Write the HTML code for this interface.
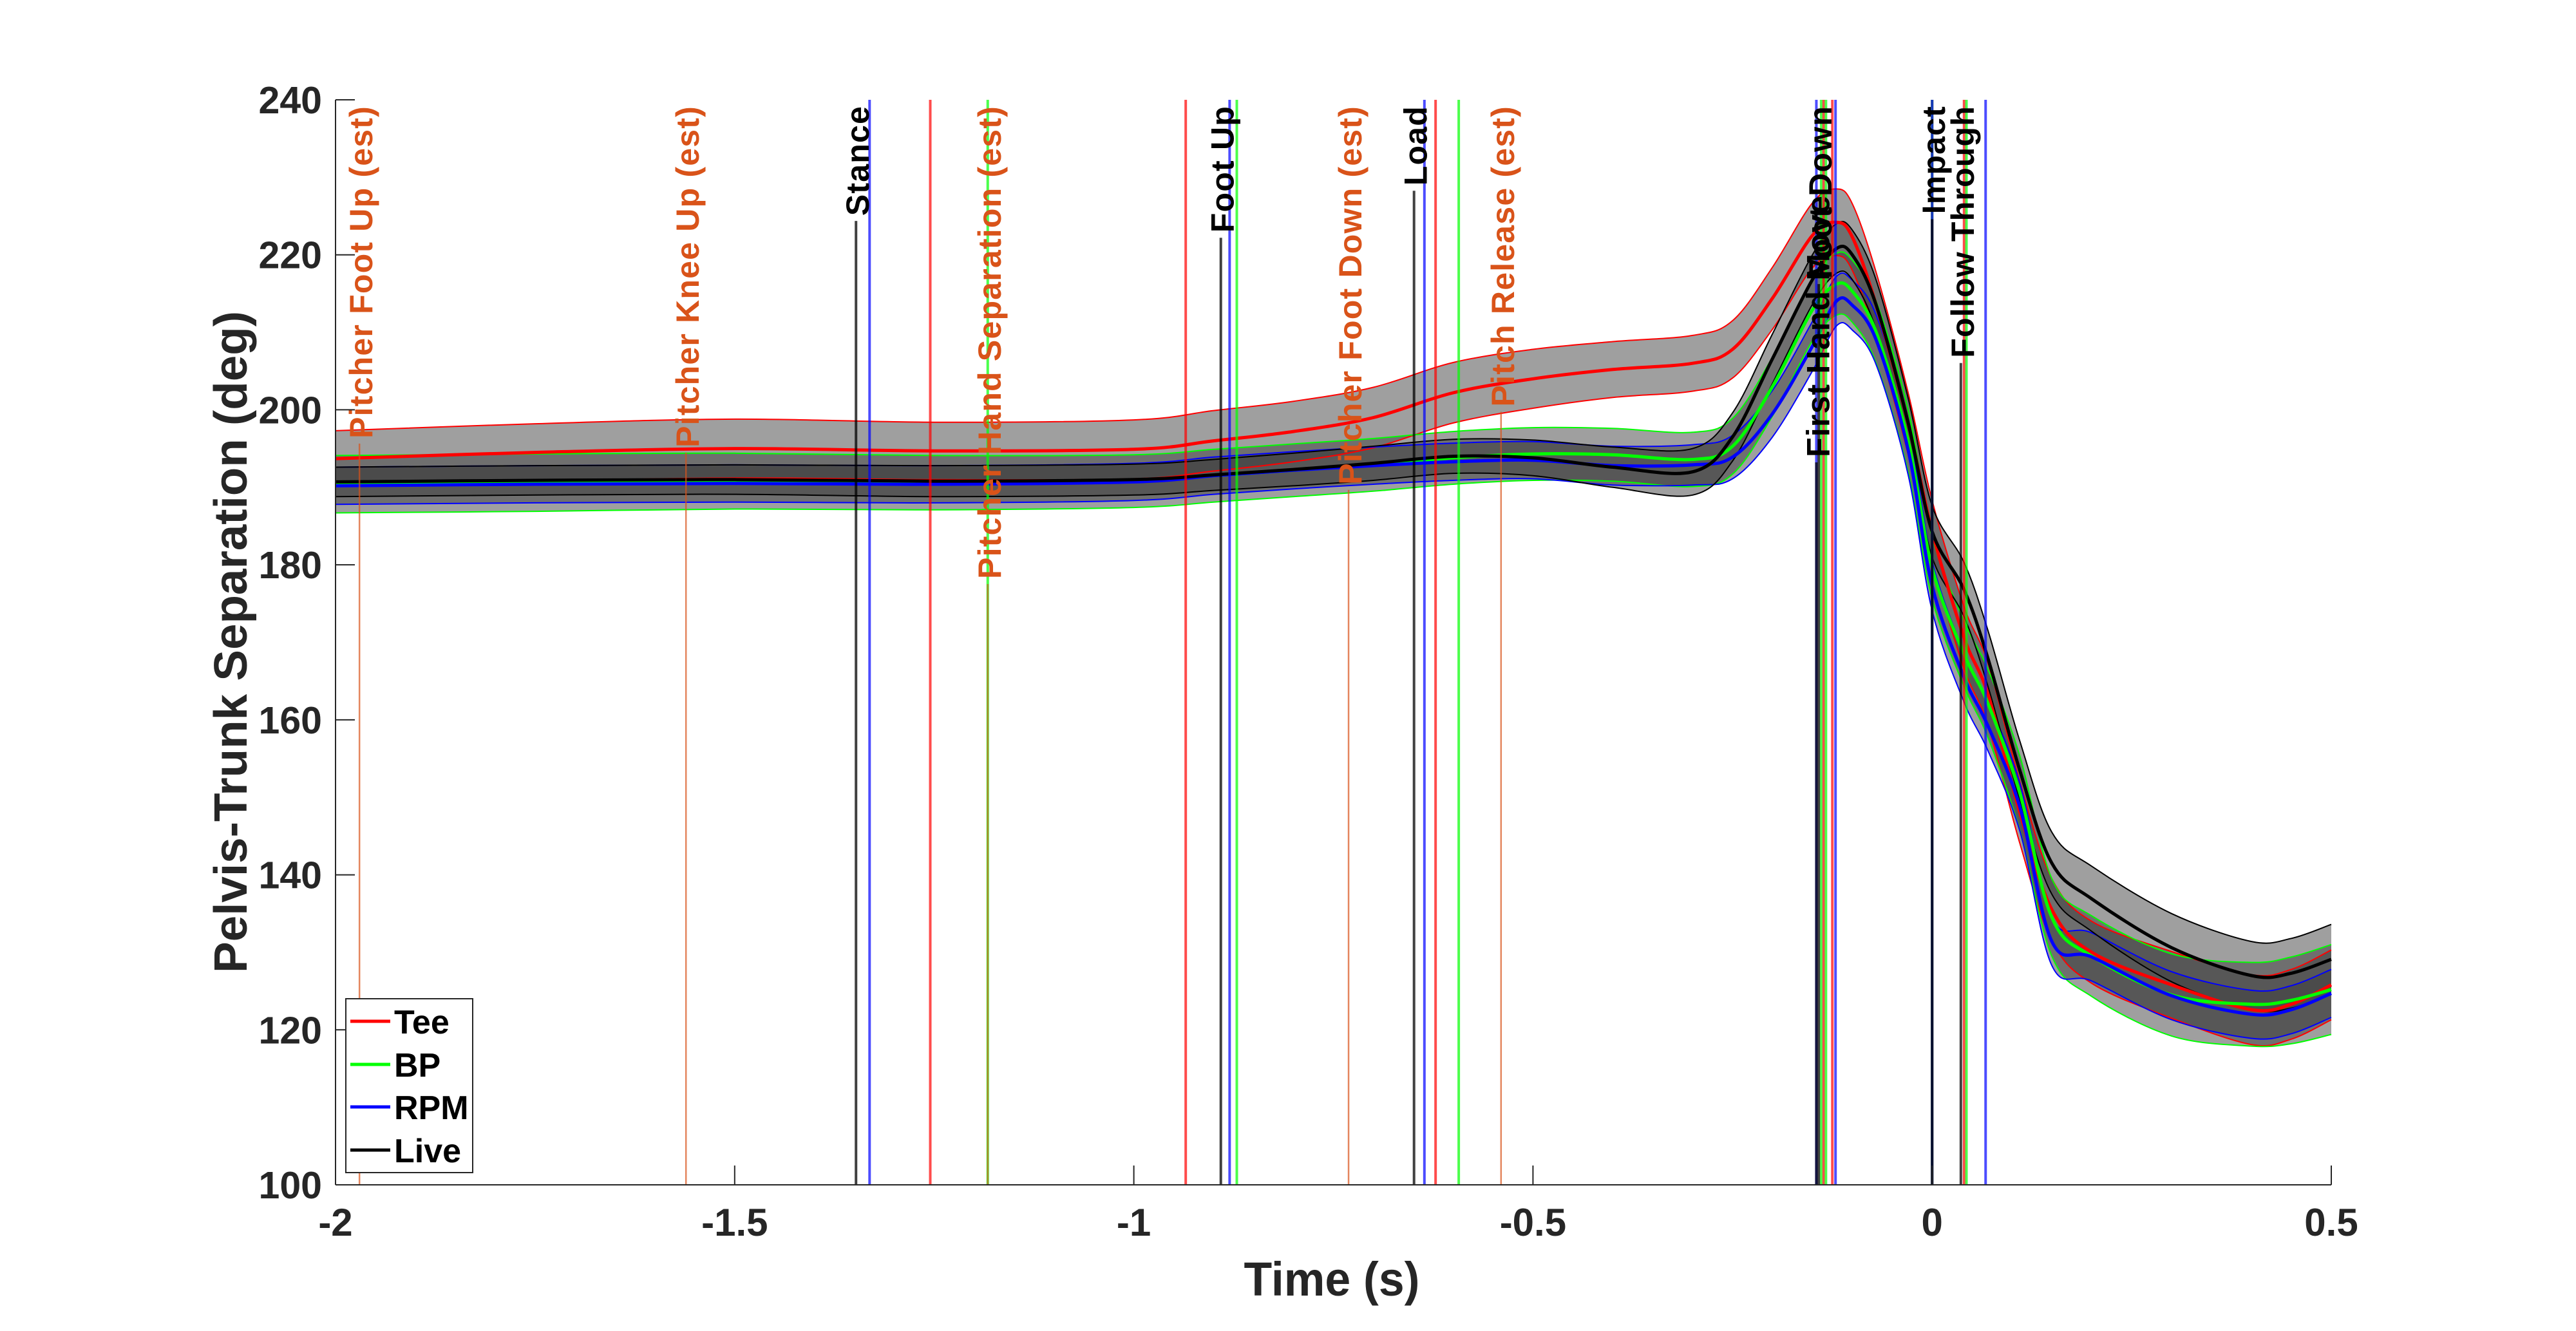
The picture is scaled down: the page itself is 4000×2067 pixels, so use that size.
<!DOCTYPE html>
<html><head><meta charset="utf-8"><style>
html,body{margin:0;padding:0;background:#fff;}
svg{display:block;font-family:"Liberation Sans",Arial,sans-serif;}
</style></head><body>
<svg id="chart" width="4000" height="2067" viewBox="0 0 4000 2067" xmlns="http://www.w3.org/2000/svg">
<rect x="0" y="0" width="4000" height="2067" fill="#fff"/>
<g id="bands"></g>
<g id="edges"></g>
<g id="means"></g>
<g id="events"></g>
<g id="axes"></g>
<g id="legend"></g>
</svg>
<script>
const times = [-2,-1.75,-1.5,-1.25,-1,-0.9,-0.8,-0.7,-0.6,-0.5,-0.4,-0.3,-0.25,-0.2,-0.15,-0.12,-0.1,-0.07,-0.03,0,0.04,0.07,0.11,0.15,0.2,0.3,0.4,0.45,0.5];
const teeMean = [193.7,194.5,195.0,194.7,194.9,196.0,197.2,199.0,202.2,204.0,205.2,206.0,207.8,214.4,222.5,224.2,222.3,213.5,198.2,184.3,170.6,163.3,148,135.5,130,125.8,122.6,123.3,125.8];
const teeSd = [3.6,3.7,3.8,3.7,3.8,3.9,3.9,3.9,3.9,3.8,3.6,3.6,3.7,4,4.2,4.3,4.3,4.2,4,4,4,4,4,4,4,4.3,4.5,4.5,4.5];
const bpMean = [190.4,190.6,190.8,190.6,190.8,191.5,192.2,192.9,193.8,194.3,194.2,193.6,195.3,203,212.9,216.2,215.3,210,196,179.6,168.5,162.1,150.5,134.5,129.5,124.5,123.3,123.8,125.2];
const bpSd = [3.7,3.7,3.6,3.5,3.4,3.4,3.4,3.4,3.4,3.4,3.4,3.5,3.6,3.8,4,4,4,4,4,4,4.2,4.4,4.8,5,5.2,5.3,5.4,5.6,5.8];
const rpmMean = [190.2,190.4,190.5,190.4,190.7,191.5,192.2,192.8,193.3,193.5,192.8,192.9,193.9,199.5,208.2,214,213.5,209,194.8,177.3,165.5,159.2,148.7,131.4,129.4,124.4,122.0,122.6,124.7];
const rpmSd = [2.4,2.4,2.4,2.4,2.4,2.4,2.4,2.4,2.4,2.4,2.5,2.6,2.8,3,3.2,3.2,3.2,3.2,3.2,3.2,3.2,3.2,3.1,3.1,3.1,3.1,3.1,3.1,3.1];
const liveMean = [190.7,190.9,191.0,190.8,191.0,191.6,192.3,193.1,194.0,193.8,192.6,192.0,196.5,206.6,216.8,220.8,220.0,213.5,198.3,184.3,176.8,167.9,153.4,141.5,136.9,130.6,127.0,127.3,129.1];
const liveSd = [1.9,1.9,1.9,2,2,2,2.1,2.2,2.2,2.3,2.6,3,3.1,3.2,3.2,3.2,3.2,3.2,3.2,3.3,3.5,3.6,3.8,4,4.2,4.4,4.4,4.5,4.5];
const seriesNames = ["Tee","BP","RPM","Live"];
const seriesColors = ["#ff0000","#00ff00","#0000ff","#000000"];
const pitcherLabels = ["Pitcher Foot Up (est)","Pitcher Knee Up (est)","Pitcher Hand Separation (est)","Pitcher Foot Down (est)","Pitch Release (est)"];
const pitcherTimes = [-1.970,-1.561,-1.183,-0.731,-0.540];
const batterLabels = ["Stance","Foot Up","Load","First Hand Move","Foot Down","Impact","Follow Through"];
const batterTimes = [-1.348,-0.891,-0.649,-0.145,-0.142,0.0,0.036];
const teeEvents = [-1.255,-0.935,-0.622,-0.136,-0.125,0.0,0.040];
const bpEvents = [-1.183,-0.871,-0.593,-0.139,-0.133,0.0,0.043];
const rpmEvents = [-1.331,-0.880,-0.636,-0.145,-0.121,0.0,0.067];
const xTicks = [-2,-1.5,-1,-0.5,0,0.5];
const xTickLabels = ["-2","-1.5","-1","-0.5","0","0.5"];
const yTicks = [100,120,140,160,180,200,220,240];
const yTickLabels = ["100","120","140","160","180","200","220","240"];

const NS="http://www.w3.org/2000/svg";
const X0=521,X1=3620,Y0=1840,Y1=155,XMIN=-2,XMAX=0.5,YMIN=100,YMAX=240;
function xs(t){return X0+(t-XMIN)/(XMAX-XMIN)*(X1-X0);}
function ys(v){return Y0-(v-YMIN)/(YMAX-YMIN)*(Y0-Y1);}
function mk(tag,attrs,parent){const e=document.createElementNS(NS,tag);for(const k in attrs)e.setAttribute(k,attrs[k]);parent.appendChild(e);return e;}
function smooth(pts){
  let d="M"+pts[0][0].toFixed(1)+","+pts[0][1].toFixed(1);
  for(let i=0;i<pts.length-1;i++){
    const p0=pts[Math.max(0,i-1)],p1=pts[i],p2=pts[i+1],p3=pts[Math.min(pts.length-1,i+2)];
    const c1x=p1[0]+(p2[0]-p0[0])/6,c1y=p1[1]+(p2[1]-p0[1])/6;
    const c2x=p2[0]-(p3[0]-p1[0])/6,c2y=p2[1]-(p3[1]-p1[1])/6;
    d+=" C"+c1x.toFixed(1)+","+c1y.toFixed(1)+" "+c2x.toFixed(1)+","+c2y.toFixed(1)+" "+p2[0].toFixed(1)+","+p2[1].toFixed(1);
  }
  return d;
}
const means=[teeMean,bpMean,rpmMean,liveMean];
const sds=[teeSd,bpSd,rpmSd,liveSd];
const gB=document.getElementById("bands"),gE=document.getElementById("edges"),gM=document.getElementById("means"),gV=document.getElementById("events"),gA=document.getElementById("axes"),gL=document.getElementById("legend");

for(let s=0;s<4;s++){
  const up=times.map((t,i)=>[xs(t),ys(means[s][i]+sds[s][i])]);
  const lo=times.map((t,i)=>[xs(t),ys(means[s][i]-sds[s][i])]);
  const loRev=lo.slice().reverse();
  const dUp=smooth(up),dLo=smooth(loRev);
  const band=mk("path",{d:dUp+" L"+dLo.slice(1)+" Z",fill:"rgb(63,63,63)","fill-opacity":"0.5",stroke:"none"},gB);
  
  
  const e1=mk("path",{d:dUp,fill:"none",stroke:seriesColors[s],"stroke-width":"2"},gE);
  
  
  const e2=mk("path",{d:smooth(lo),fill:"none",stroke:seriesColors[s],"stroke-width":"2"},gE);
  
  
}
for(let s=0;s<4;s++){
  const pts=times.map((t,i)=>[xs(t),ys(means[s][i])]);
  const m=mk("path",{d:smooth(pts),fill:"none",stroke:seriesColors[s],"stroke-width":"5"},gM);
  
  
}
const condEvents=[teeEvents,bpEvents,rpmEvents];
const condCols=["rgba(255,0,0,0.7)","rgba(0,255,0,0.7)","rgba(0,0,255,0.7)"];
for(let c=0;c<3;c++){
  condEvents[c].forEach((t,i)=>{
    const l=mk("line",{x1:xs(t),x2:xs(t),y1:Y1,y2:Y0,stroke:condCols[c],"stroke-width":"4"},gV);
    
    
  });
}
function labeledLine(t,label,col,lineCol,lw,top,name){
  const x=xs(t);
  const tx=mk("text",{transform:"translate("+(x+20)+","+top+") rotate(-90)","text-anchor":"end","font-size":"50","font-weight":"bold","letter-spacing":"1.2",fill:col},gV);
  tx.textContent=label;
  
  
  const len=tx.getComputedTextLength();
  const l=mk("line",{x1:x,x2:x,y1:top+len+8,y2:Y0,stroke:lineCol,"stroke-width":lw},gV);
  
  
}
pitcherLabels.forEach((lab,i)=>labeledLine(pitcherTimes[i],lab,"#D95319","rgba(217,83,25,0.7)","2.5",164,"pitcher-event-"+i));
batterLabels.forEach((lab,i)=>labeledLine(batterTimes[i],lab,"#000","rgba(0,0,0,0.75)","4",lab==="First Hand Move"?303:164,"batter-event-"+i));

const ax=mk("line",{x1:X0,y1:Y0,x2:X1,y2:Y0,stroke:"#262626","stroke-width":"2"},gA);


const ay=mk("line",{x1:X0,y1:Y0,x2:X0,y2:Y1,stroke:"#262626","stroke-width":"2"},gA);


xTicks.forEach((v,i)=>{
  const x=xs(v);
  const tk=mk("line",{x1:x,x2:x,y1:Y0,y2:Y0-30,stroke:"#262626","stroke-width":"2"},gA);
  
  
  const t=mk("text",{x:x,y:1919,"text-anchor":"middle","font-size":"60","font-weight":"bold",fill:"#262626"},gA);
  t.textContent=xTickLabels[i];
  
  
});
yTicks.forEach((v,i)=>{
  const y=ys(v);
  const tk=mk("line",{x1:X0,x2:X0+30,y1:y,y2:y,stroke:"#262626","stroke-width":"2"},gA);
  
  
  const t=mk("text",{x:500,y:y+21,"text-anchor":"end","font-size":"59","font-weight":"bold",fill:"#262626"},gA);
  t.textContent=yTickLabels[i];
  
  
});
const xt=mk("text",{x:2068,y:2012,"text-anchor":"middle","font-size":"74","font-weight":"bold",fill:"#262626",textLength:"273",lengthAdjust:"spacingAndGlyphs"},gA);
xt.textContent="Time (s)";


const yt=mk("text",{transform:"translate(383,997) rotate(-90)","text-anchor":"middle","font-size":"72","font-weight":"bold",fill:"#262626",textLength:"1028",lengthAdjust:"spacingAndGlyphs"},gA);
yt.textContent="Pelvis-Trunk Separation (deg)";



const lb=mk("rect",{x:537,y:1551,width:197,height:270,fill:"#fff",stroke:"#262626","stroke-width":"2"},gL);


const legY=[1586,1653,1719,1786];
seriesNames.forEach((n,i)=>{
  const l=mk("line",{x1:544,x2:606,y1:legY[i],y2:legY[i],stroke:seriesColors[i],"stroke-width":"5"},gL);
  
  
  const t=mk("text",{x:612,y:legY[i]+19,"font-size":"52","font-weight":"bold",fill:"#000"},gL);
  t.textContent=n;
  
  
});
</script>
</body></html>
